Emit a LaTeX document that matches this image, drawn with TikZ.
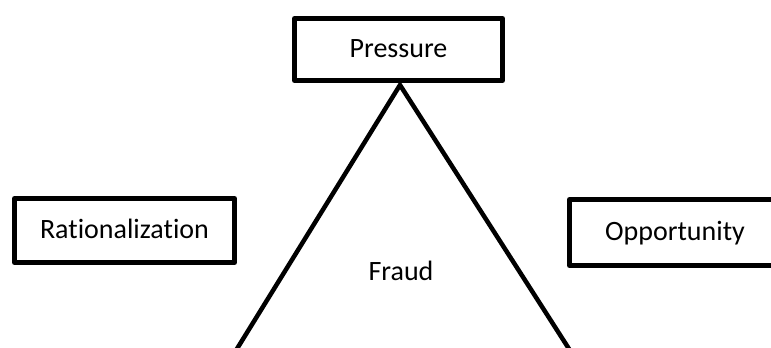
\documentclass[tikz,border=0pt]{standalone}
\usepackage{fontspec}
\setmainfont[Ligatures=NoCommon]{Carlito}
\begin{document}
\begin{tikzpicture}[x=1bp,y=-1bp,
  lbl/.style={inner sep=0pt, font=\fontsize{28bp}{32bp}\selectfont, text height=15bp, text depth=0pt},
  box/.style={lbl, draw, line width=5bp, fill=white, line join=round},
  tri/.style={line width=4.5bp, line join=miter}]
\useasboundingbox (0,0) rectangle (771,347);
\coordinate (apex) at (400,85);
\coordinate (BL) at (235,352);
\coordinate (BR) at (571,352);
\draw[tri] (BL) -- (apex) -- (BR);
\node[box, minimum width=208bp, minimum height=62bp] (P) at (398.5,49.5) {Pressure};
\node[box, minimum width=220bp, minimum height=64bp] (R) at (124.5,230.5) {Rationalization};
\node[box, minimum width=211bp, minimum height=66bp] (O) at (675,232.5) {Opportunity};
\node[lbl] (F) at (401,272.5) {Fraud};
\end{tikzpicture}
\end{document}
